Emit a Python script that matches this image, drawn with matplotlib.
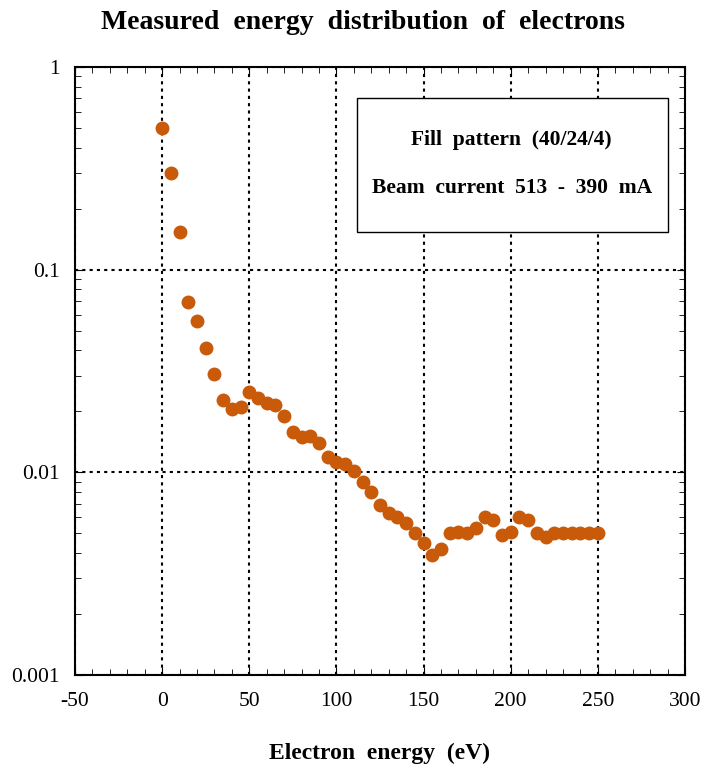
import numpy as np
import matplotlib.pyplot as plt
from matplotlib.patches import Rectangle

plt.rcParams['font.family'] = ['Liberation Serif', 'DejaVu Serif']
plt.rcParams['axes.unicode_minus'] = False

energy = np.arange(0, 255, 5)
counts = [0.5, 0.30, 0.153, 0.069, 0.056, 0.041, 0.0306, 0.0228, 0.0206, 0.021,
          0.0249, 0.0233, 0.022, 0.0215, 0.019, 0.0158, 0.015, 0.0151, 0.014, 0.0119,
          0.0112, 0.011, 0.0102, 0.009, 0.008, 0.0069, 0.0063, 0.006, 0.0056, 0.005,
          0.0045, 0.0039, 0.0042, 0.005, 0.0051, 0.005, 0.0053, 0.006, 0.0058, 0.0049,
          0.0051, 0.006, 0.0058, 0.005, 0.0048, 0.005, 0.005, 0.005, 0.005, 0.005,
          0.005]
xticks = [-50, 0, 50, 100, 150, 200, 250, 300]
yticks = [0.001, 0.01, 0.1, 1]
yticklabels = ['0.001', '0.01', '0.1', '1']

fig = plt.figure(figsize=(7.04, 7.67), dpi=100)
ax = fig.add_axes([0.1065, 0.12, 0.8665, 0.7926])

ax.plot(energy, counts, 'o', color='#C85A0A', markersize=9, zorder=3)
ax.set_yscale('log')
ax.set_xlim(-50, 300)
ax.set_ylim(0.001, 1)
ax.set_xticks(xticks)
ax.set_xticks(np.arange(-50, 301, 10), minor=True)
ax.set_yticks(yticks)
ax.set_yticklabels(yticklabels)
ax.tick_params(which='both', direction='in', top=True, right=True, labelsize=15.5)
ax.tick_params(which='major', length=6)
ax.tick_params(which='minor', length=4)
ax.tick_params(axis='x', pad=12)
ax.tick_params(axis='y', pad=11)
ax.grid(True, which='major', color='black', linestyle=(0, (1.5, 2)), linewidth=1.5)
for s in ax.spines.values():
    s.set_linewidth(1.5)
    s.set_linestyle((0, (2, 1)))

ax.set_xlabel('Electron  energy  (eV)', fontsize=17, fontweight='bold', labelpad=23)
fig.text(0.515, 0.987, 'Measured  energy  distribution  of  electrons', ha='center', va='top',
         fontsize=20, fontweight='bold')

ax.add_patch(Rectangle((0.462, 0.729), 0.51, 0.22, transform=ax.transAxes,
                       facecolor='white', edgecolor='black', linewidth=1, zorder=4))
ax.text(0.716, 0.88, 'Fill  pattern  (40/24/4)', transform=ax.transAxes,
        ha='center', va='center', fontsize=15.5, fontweight='bold', zorder=5)
ax.text(0.716, 0.801, 'Beam  current  513  -  390  mA', transform=ax.transAxes,
        ha='center', va='center', fontsize=15.5, fontweight='bold', zorder=5)

fig.savefig('out.png', dpi=100)
